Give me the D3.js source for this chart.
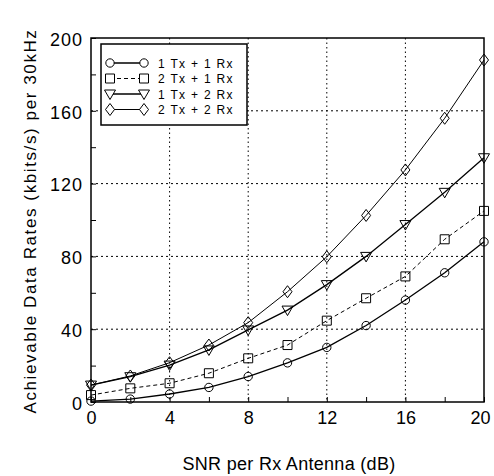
<!DOCTYPE html>
<html>
<head>
<meta charset="utf-8">
<script src="https://cdn.jsdelivr.net/npm/d3@7"></script>
<style>
  body { margin: 0; background: #fff; }
  svg { font-family: "Liberation Sans", Arial, sans-serif; }
</style>
</head>
<body>
<svg width="494" height="476"></svg>
<script>
// SNR values (dB)
const snr = [0, 2, 4, 6, 8, 10, 12, 14, 16, 18, 20];
const oneTxOneRx = [0.5, 1.6, 4.4, 8, 14, 21.5, 30, 42, 56, 71, 88];
const twoTxOneRx = [3.8, 7.5, 10.3, 15.8, 24, 31.3, 44.7, 57, 69, 89.4, 105];
const oneTxTwoRx = [9.3, 13.9, 20.3, 28.6, 39.6, 50.5, 64.5, 80, 97.5, 115.2, 134.2];
const twoTxTwoRx = [9.3, 14.3, 21.6, 31.3, 43.6, 60.6, 79.8, 102.5, 127.5, 155.9, 187.9];
const seriesNames = ['1 Tx + 1 Rx', '2 Tx + 1 Rx', '1 Tx + 2 Rx', '2 Tx + 2 Rx'];
const xTicks = [0, 4, 8, 12, 16, 20];
const yTicks = [0, 40, 80, 120, 160, 200];

const svg = d3.select('svg');
const plotL = 91, plotR = 484, plotT = 38, plotB = 402;

const x = d3.scaleLinear().domain([0, 20]).range([plotL, plotR]);
const y = d3.scaleLinear().domain([0, 200]).range([plotB, plotT]);

// dotted grid
svg.append('g')
  .selectAll('line')
  .data(xTicks.slice(1, -1))
  .enter()
  .append('line')
  .attr('x1', d => x(d)).attr('x2', d => x(d))
  .attr('y1', plotT).attr('y2', plotB)
  .attr('stroke', '#000').attr('stroke-width', 1)
  .attr('stroke-dasharray', '1.5,3');
svg.append('g')
  .selectAll('line')
  .data(yTicks.slice(1, -1))
  .enter()
  .append('line')
  .attr('x1', plotL).attr('x2', plotR)
  .attr('y1', d => y(d)).attr('y2', d => y(d))
  .attr('stroke', '#000').attr('stroke-width', 1)
  .attr('stroke-dasharray', '2,3');

// axes with inward ticks
const xAxis = svg.append('g')
  .attr('transform', `translate(0,${plotB})`)
  .call(d3.axisBottom(x).tickValues(d3.range(0, 21, 2)).tickSize(-5).tickFormat(d => xTicks.includes(d) ? d : ''));
const yAxis = svg.append('g')
  .attr('transform', `translate(${plotL},0)`)
  .call(d3.axisLeft(y).tickValues(d3.range(0, 201, 20)).tickSize(-5).tickFormat(d => yTicks.includes(d) ? d : ''));
[xAxis, yAxis].forEach(a => {
  a.select('.domain').remove();
  a.selectAll('text').attr('font-size', 18).attr('fill', '#000')
    .attr('font-family', '"Liberation Sans", Arial, sans-serif');
});
xAxis.selectAll('text').attr('dy', '1.05em');
xAxis.selectAll('.tick').filter(d => d === 20).select('text').attr('dx', -4);
yAxis.selectAll('text').attr('x', -8).attr('dy', '0.4em').attr('letter-spacing', 1);

svg.append('rect')
  .attr('x', plotL).attr('y', plotT)
  .attr('width', plotR - plotL).attr('height', plotB - plotT)
  .attr('fill', 'none').attr('stroke', '#000').attr('stroke-width', 1.5);

const series = [
  { name: seriesNames[0], values: oneTxOneRx, marker: 'circle', dash: null, width: 1.3 },
  { name: seriesNames[1], values: twoTxOneRx, marker: 'square', dash: '4,3', width: 1 },
  { name: seriesNames[2], values: oneTxTwoRx, marker: 'triangle', dash: null, width: 1.3 },
  { name: seriesNames[3], values: twoTxTwoRx, marker: 'diamond', dash: null, width: 1 }
];

function markerPath(type) {
  if (type === 'circle') return d3.symbol(d3.symbolCircle, 55)();
  if (type === 'square') return 'M-4.5,-4.5H4.5V4.5H-4.5Z';
  if (type === 'triangle') return 'M-5.5,-4L5.5,-4L0,5.5Z';
  return 'M0,-6L4.5,0L0,6L-4.5,0Z';
}

const line = d3.line().x((d, i) => x(snr[i])).y(d => y(d));

series.forEach(s => {
  svg.append('path')
    .datum(s.values)
    .attr('d', line)
    .attr('fill', 'none')
    .attr('stroke', '#000')
    .attr('stroke-width', s.width)
    .attr('stroke-dasharray', s.dash);
  svg.append('g')
    .selectAll('path')
    .data(s.values)
    .enter()
    .append('path')
    .attr('transform', (d, i) => `translate(${x(snr[i])},${y(d)})`)
    .attr('d', markerPath(s.marker))
    .attr('fill', 'none')
    .attr('stroke', '#000')
    .attr('stroke-width', 1);
});

// legend
const legend = svg.append('g');
legend.append('rect')
  .attr('x', 101).attr('y', 44).attr('width', 146).attr('height', 81)
  .attr('fill', '#fff').attr('stroke', '#000').attr('stroke-width', 1.5);
series.forEach((s, i) => {
  const ly = 63 + i * 15.5;
  legend.append('line')
    .attr('x1', 110).attr('x2', 144).attr('y1', ly).attr('y2', ly)
    .attr('stroke', '#000').attr('stroke-width', s.width)
    .attr('stroke-dasharray', s.dash);
  [110, 144].forEach(px => {
    legend.append('path')
      .attr('transform', `translate(${px},${ly})`)
      .attr('d', markerPath(s.marker))
      .attr('fill', '#fff').attr('stroke', '#000');
  });
  legend.append('text')
    .attr('x', 158).attr('y', ly + 4.5)
    .attr('font-size', 12)
    .attr('letter-spacing', 1.3)
    .text(s.name);
});

// axis titles
svg.append('text')
  .attr('x', 289).attr('y', 470)
  .attr('text-anchor', 'middle')
  .attr('font-size', 18)
  .attr('letter-spacing', 0.3)
  .text('SNR per Rx Antenna (dB)');
svg.append('text')
  .attr('transform', 'translate(36,221) rotate(-90)')
  .attr('text-anchor', 'middle')
  .attr('font-size', 17)
  .attr('letter-spacing', 1.6)
  .text('Achievable Data Rates (kbits/s) per 30kHz');
</script>
</body>
</html>
